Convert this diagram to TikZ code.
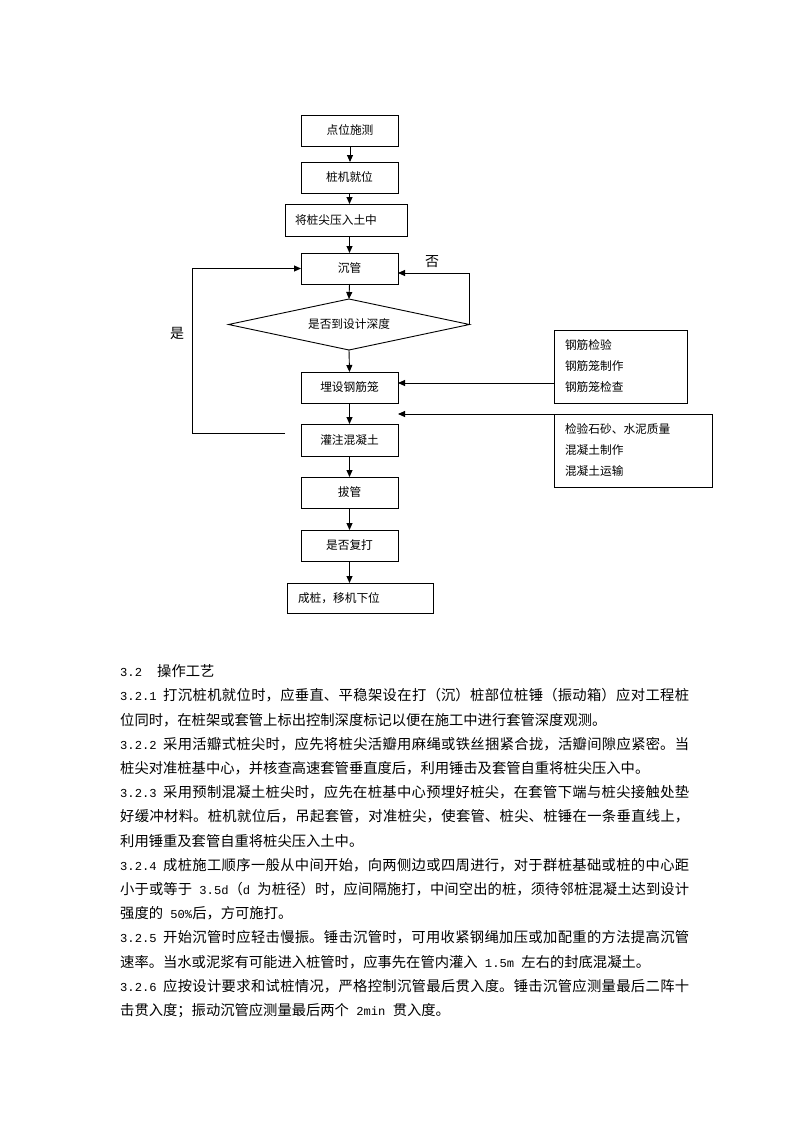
\documentclass[tikz,border=0pt]{standalone}
\usepackage{fontspec}
\setmainfont{Noto Sans CJK SC}
\setmonofont[Scale=0.85]{Liberation Mono}
\usetikzlibrary{arrows.meta,shapes.geometric}
\XeTeXlinebreaklocale "zh"
\XeTeXlinebreakskip=0pt plus 2pt minus 0.4pt
\begin{document}
\begin{tikzpicture}[x=1pt,y=-1pt,
  box/.style={draw, line width=0.9pt, minimum width=97pt, minimum height=31pt,
    inner sep=0pt, outer sep=0pt, font=\fontsize{11.7}{14}\selectfont},
  arr/.style={line width=0.9pt, -{Triangle[length=7pt,width=6pt]}},
  lbl/.style={inner sep=0pt, font=\fontsize{14}{16}\selectfont}]
\fill[white] (0,0) rectangle (800,1132);
\useasboundingbox (0,0) rectangle (800,1132);

\node[box] (A) at (350,130.5) {点位施测};
\node[box] (B) at (349.5,177.5) {桩机就位};
\node[box, minimum width=122pt, minimum height=32pt, text width=102pt, align=left, inner xsep=10pt] (C) at (346,220) {将桩尖压入土中};
\node[box] (D) at (349.5,268.5) {沉管};
\node[box, diamond, aspect=4.7, minimum width=241pt, minimum height=51pt] (E) at (349,324.5) {是否到设计深度};
\node[box] (F) at (349.5,387.5) {埋设钢筋笼};
\node[box, minimum height=32pt] (G) at (349.5,440) {灌注混凝土};
\node[box] (H) at (349.5,492.5) {拔管};
\node[box] (I) at (349.5,545.5) {是否复打};
\node[box, minimum width=146pt, minimum height=30pt, text width=124pt, align=left, inner xsep=11pt] (J) at (360,598) {成桩，移机下位};
\node[box, minimum width=133pt, minimum height=73pt, text width=111pt, align=left, inner xsep=11pt, font=\fontsize{11.7}{21}\selectfont] (K) at (620.5,366.5) {钢筋检验\\钢筋笼制作\\钢筋笼检查};
\node[box, minimum width=158pt, minimum height=73pt, text width=136pt, align=left, inner xsep=11pt, font=\fontsize{11.7}{21}\selectfont] (L) at (633,450.5) {检验石砂、水泥质量\\混凝土制作\\混凝土运输};

\node[lbl] (no) at (432,262) {否};
\node[lbl] (yes) at (177,333) {是};
\coordinate (yesTop) at (192,268.5);

\draw[arr] (A.south) -- (A.south |- B.north);
\draw[arr] (B.south) -- (B.south |- C.north);
\draw[arr] (C.south -| D.north) -- (D.north);
\draw[arr] (D.south) -- (E.north);
\draw[arr] (E.south) -- (F.north);
\draw[arr] (F.south) -- (G.north);
\draw[arr] (G.south) -- (H.north);
\draw[arr] (H.south) -- (I.north);
\draw[arr] (I.south) -- (I.south |- J.north);
\draw[arr] (E.east) |- ([yshift=-4.5pt]D.east);
\draw[arr] ([xshift=-16pt,yshift=7pt]G.west) -| (yesTop) -- (D.west);
\draw[arr] ([yshift=-16.5pt]K.west) -- ([yshift=4.5pt]F.east);
\draw[arr] (L.north west) -- (L.north west -| F.east);

\node[anchor=north west, inner sep=0pt, text width=569pt, align=justify,
  font=\fontsize{14.3}{24.2}\selectfont] (body) at (120,659.5) {\parindent=0pt\tolerance=9999\hbadness=10000
\leavevmode\strut\makebox[37pt][l]{\ttfamily 3.2}操作工艺\par
\makebox[43pt][l]{\ttfamily 3.2.1}打沉桩机就位时，应垂直、平稳架设在打（沉）桩部位桩锤（振动箱）应对工程桩\linebreak
位同时，在桩架或套管上标出控制深度标记以便在施工中进行套管深度观测。\par
\makebox[43pt][l]{\ttfamily 3.2.2}采用活瓣式桩尖时，应先将桩尖活瓣用麻绳或铁丝捆紧合拢，活瓣间隙应紧密。当\linebreak
桩尖对准桩基中心，并核查高速套管垂直度后，利用锤击及套管自重将桩尖压入中。\par
\makebox[43pt][l]{\ttfamily 3.2.3}采用预制混凝土桩尖时，应先在桩基中心预埋好桩尖，在套管下端与桩尖接触处垫\linebreak
好缓冲材料。桩机就位后，吊起套管，对准桩尖，使套管、桩尖、桩锤在一条垂直线上，\linebreak
利用锤重及套管自重将桩尖压入土中。\par
\makebox[43pt][l]{\ttfamily 3.2.4}成桩施工顺序一般从中间开始，向两侧边或四周进行，对于群桩基础或桩的中心距\linebreak
小于或等于{\ttfamily\ 3.5d}（{\ttfamily d\ }为桩径）时，应间隔施打，中间空出的桩，须待邻桩混凝土达到设计\linebreak
强度的{\ttfamily\ 50\%}后，方可施打。\par
\makebox[43pt][l]{\ttfamily 3.2.5}开始沉管时应轻击慢振。锤击沉管时，可用收紧钢绳加压或加配重的方法提高沉管\linebreak
速率。当水或泥浆有可能进入桩管时，应事先在管内灌入{\ttfamily\ 1.5m\ }左右的封底混凝土。\par
\makebox[43pt][l]{\ttfamily 3.2.6}应按设计要求和试桩情况，严格控制沉管最后贯入度。锤击沉管应测量最后二阵十\linebreak
击贯入度；振动沉管应测量最后两个{\ttfamily\ 2min\ }贯入度。\par};
\end{tikzpicture}
\end{document}
